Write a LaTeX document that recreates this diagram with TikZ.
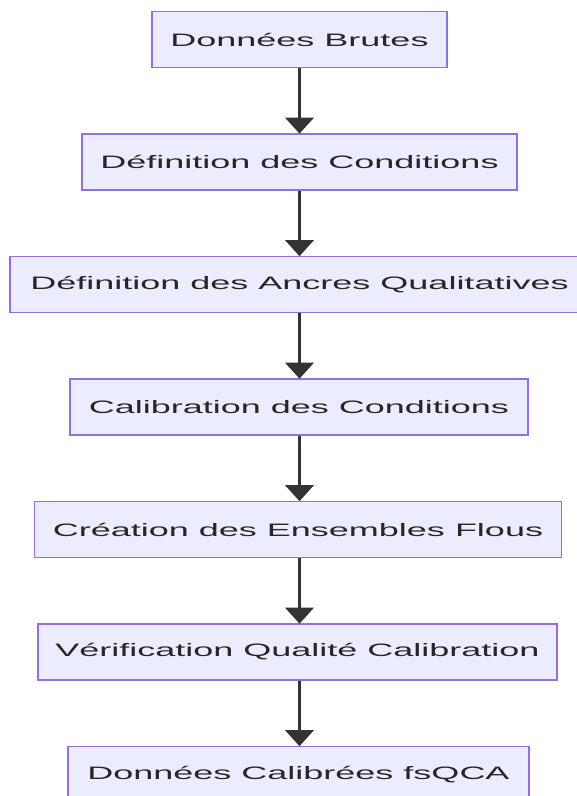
\documentclass[tikz,border=0pt]{standalone}
\usepackage{fontspec}
\setmainfont{Liberation Sans}
\usetikzlibrary{arrows.meta}
\definecolor{boxfill}{HTML}{ECECFF}
\definecolor{boxline}{HTML}{9370DB}
\definecolor{ink}{HTML}{333333}
\newcommand{\wtxt}[1]{\scalebox{2.0}[1]{\fontsize{18}{20}\selectfont #1}}
\tikzset{
  stage/.style={draw=boxline, fill=boxfill, line width=1.6pt, minimum height=56pt,
    inner sep=0pt, text=black!85, font=\fontsize{18}{20}\selectfont},
  flow/.style={draw=ink, line width=3.6pt, -{Triangle[width=28pt,length=16pt]}, shorten >=-0.5pt}
}
\begin{document}
\begin{tikzpicture}[x=1pt,y=1pt]
\useasboundingbox (0,0) rectangle (577,-796);
\node[stage, minimum width=295pt] (n1) at (299.5,-39.5) {\wtxt{Données Brutes}};
\node[stage, minimum width=435pt] (n2) at (299.5,-162) {\wtxt{Définition des Conditions}};
\node[stage, minimum width=579pt] (n3) at (299.5,-284.5) {\wtxt{Définition des Ancres Qualitatives}};
\node[stage, minimum width=458pt] (n4) at (299,-407) {\wtxt{Calibration des Conditions}};
\node[stage, minimum width=527pt] (n5) at (298,-529.5) {\wtxt{Création des Ensembles Flous}};
\node[stage, minimum width=519pt] (n6) at (297.5,-652) {\wtxt{Vérification Qualité Calibration}};
\node[stage, minimum width=461pt] (n7) at (298.5,-774.5) {\wtxt{Données Calibrées fsQCA}};
\draw[flow] (n1.south -| 299.5,0) -- (n2.north -| 299.5,0);
\draw[flow] (n2.south -| 299.5,0) -- (n3.north -| 299.5,0);
\draw[flow] (n3.south -| 299.5,0) -- (n4.north -| 299.5,0);
\draw[flow] (n4.south -| 299.5,0) -- (n5.north -| 299.5,0);
\draw[flow] (n5.south -| 299.5,0) -- (n6.north -| 299.5,0);
\draw[flow] (n6.south -| 299.5,0) -- (n7.north -| 299.5,0);
\end{tikzpicture}
\end{document}
